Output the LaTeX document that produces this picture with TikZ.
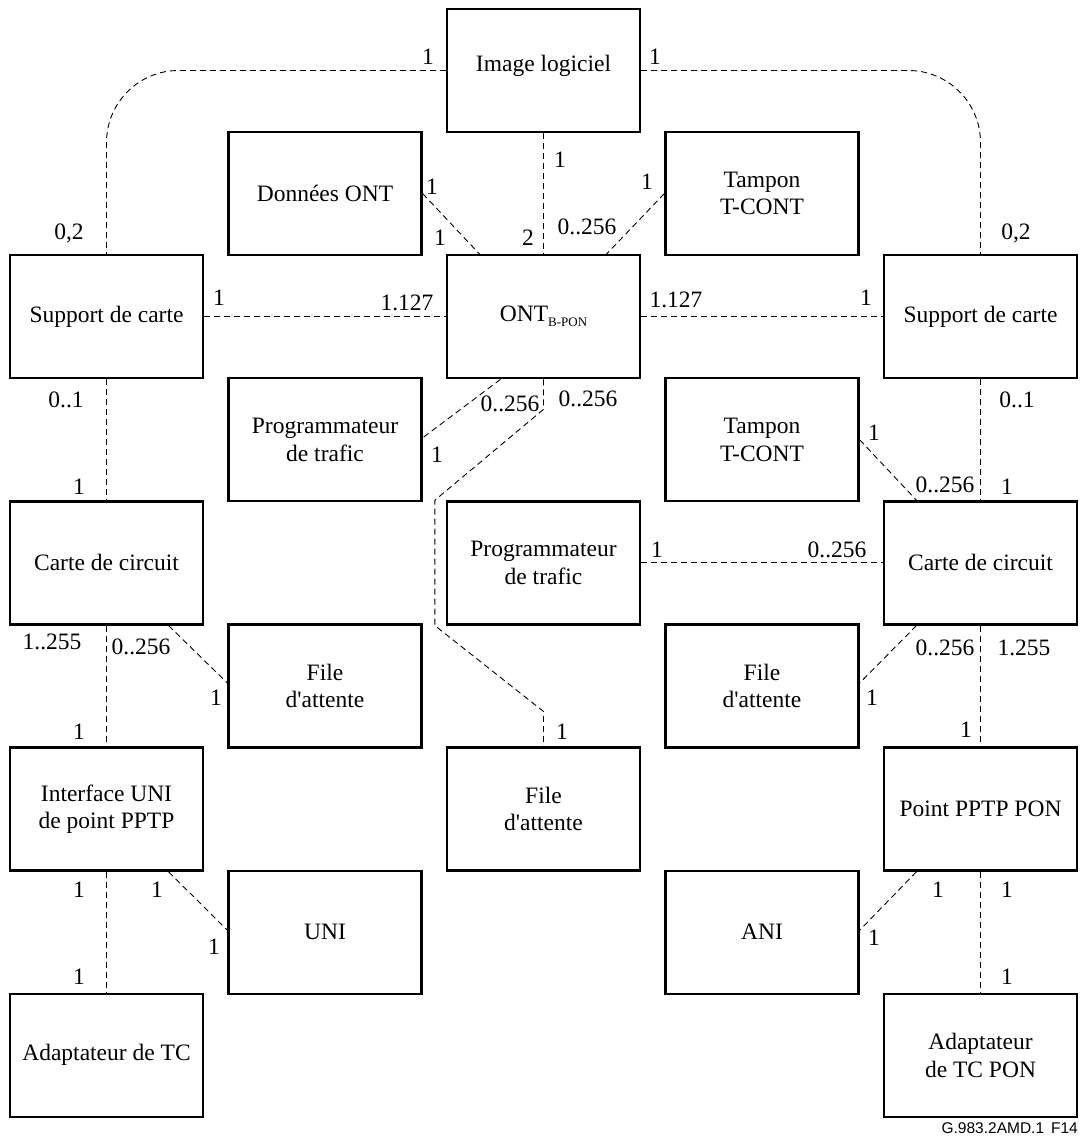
\documentclass[tikz,border=0pt]{standalone}
\usepackage{fontspec}
\setmainfont{Liberation Serif}
\newfontfamily\figsans{Liberation Sans}
\usetikzlibrary{calc}
\begin{document}
\begin{tikzpicture}[x=1pt,y=-1pt,
  box/.style={draw,line width=2.3pt,rectangle,minimum width=193pt,minimum height=123pt,
    inner sep=0pt,align=center,font=\fontsize{23.5}{27.5}\selectfont},
  conn/.style={draw,line width=0.9pt,dash pattern=on 6pt off 4pt},
  lbl/.style={inner sep=0pt,font=\fontsize{23.5}{27.5}\selectfont}]
\useasboundingbox (0,0) rectangle (1082,1137);

% object classes
\node[box] (img)  at (543.5,70.5)  {\raisebox{15pt}{Image logiciel}};
\node[box] (don)  at (325,193.6)   {Donn\'ees ONT};
\node[box] (tpA)  at (762,193.6)   {Tampon\\T-CONT};
\node[box] (supL) at (106.5,316.7) {Support de carte};
\node[box] (ont)  at (543.5,316.7) {ONT\raisebox{-0.45ex}{\fontsize{13}{13}\selectfont B-PON}};
\node[box] (supR) at (980.5,316.7) {Support de carte};
\node[box] (prgL) at (325,439.8)   {Programmateur\\de trafic};
\node[box] (tpB)  at (762,439.8)   {Tampon\\T-CONT};
\node[box] (crtL) at (106.5,562.9) {Carte de circuit};
\node[box] (prgM) at (543.5,562.9) {Programmateur\\de trafic};
\node[box] (crtR) at (980.5,562.9) {Carte de circuit};
\node[box] (filL) at (325,686)     {File\\d\textquotesingle attente};
\node[box] (filR) at (762,686)     {File\\d\textquotesingle attente};
\node[box] (itf)  at (106.5,809.1) {Interface UNI\\de point PPTP};
\node[box] (filM) at (543.5,809.1) {File\\d\textquotesingle attente};
\node[box] (ppt)  at (980.5,809.1) {Point PPTP PON};
\node[box] (uni)  at (325,932.2)   {UNI};
\node[box] (ani)  at (762,932.2)   {ANI};
\node[box] (adL)  at (106.5,1055.3) {Adaptateur de TC};
\node[box] (adR)  at (980.5,1055.3) {Adaptateur\\de TC PON};

% associations
\draw[conn,rounded corners=72pt] (img.west) -| (supL.north);
\draw[conn,rounded corners=72pt] (img.east) -| (supR.north);
\draw[conn] (img.south) -- (ont.north);
\draw[conn] (don.east) -- ($(ont.north)+(-64,0)$);
\draw[conn] (tpA.west) -- ($(ont.north)+(63,0)$);
\draw[conn] (supL.east) -- (ont.west);
\draw[conn] (ont.east) -- (supR.west);
\draw[conn] ($(ont.south)+(-43,0)$) -- ($(prgL.east)+(0,-2)$);
\coordinate (k1) at ($(ont.south)+(0,30)$);
\coordinate (k2) at ($(prgM.north west)+(-11,0)$);
\coordinate (k3) at ($(prgM.south west)+(-11,0)$);
\coordinate (k4) at ($(filM.north)+(0,-35)$);
\draw[conn] (ont.south) -- (k1) -- (k2) -- (k3) -- (k4) -- (filM.north);
\draw[conn] (supL.south) -- (crtL.north);
\draw[conn] (supR.south) -- (crtR.north);
\draw[conn] (tpB.east) -- ($(crtR.north)+(-64,0)$);
\draw[conn] (prgM.east) -- (crtR.west);
\draw[conn] ($(crtL.south)+(62,0)$) -- ($(filL.west)+(0,-3)$);
\draw[conn] (crtL.south) -- (itf.north);
\draw[conn] ($(crtR.south)+(-64,0)$) -- ($(filR.east)+(0,-3)$);
\draw[conn] (crtR.south) -- (ppt.north);
\draw[conn] ($(itf.south)+(62,0)$) -- ($(uni.west)+(0,-2)$);
\draw[conn] (itf.south) -- (adL.north);
\draw[conn] ($(ppt.south)+(-64,0)$) -- ($(ani.east)+(0,-2)$);
\draw[conn] (ppt.south) -- (adR.north);

% multiplicities
\node[lbl] (m1)  at (428,57)  {1};
\node[lbl] (m2)  at (655,57)  {1};
\node[lbl] (m3)  at (69,233)  {0,2};
\node[lbl] (m4)  at (1016,233) {0,2};
\node[lbl] (m5)  at (560,160) {1};
\node[lbl] (m6)  at (528,238) {2};
\node[lbl] (m7)  at (432,187) {1};
\node[lbl] (m8)  at (440,238) {1};
\node[lbl] (m9)  at (647,182) {1};
\node[lbl] (m10) at (587,227) {0..256};
\node[lbl] (m11) at (219,298) {1};
\node[lbl] (m12) at (407,303) {1.127};
\node[lbl] (m13) at (676,300) {1.127};
\node[lbl] (m14) at (866,298) {1};
\node[lbl] (m15) at (66,400)  {0..1};
\node[lbl] (m16) at (79,487)  {1};
\node[lbl] (m17) at (1017,400) {0..1};
\node[lbl] (m18) at (1007,487) {1};
\node[lbl] (m19) at (945,485) {0..256};
\node[lbl] (m20) at (510,404) {0..256};
\node[lbl] (m21) at (437,455) {1};
\node[lbl] (m22) at (588,399) {0..256};
\node[lbl] (m23) at (562,732) {1};
\node[lbl] (m24) at (874,433) {1};
\node[lbl] (m25) at (657,550) {1};
\node[lbl] (m26) at (837,550) {0..256};
\node[lbl] (m27) at (141,647) {0..256};
\node[lbl] (m28) at (216,698) {1};
\node[lbl] (m29) at (52,642)  {1..255};
\node[lbl] (m30) at (79,732)  {1};
\node[lbl] (m31) at (945,648) {0..256};
\node[lbl] (m32) at (872,698) {1};
\node[lbl] (m33) at (1024,648) {1.255};
\node[lbl] (m34) at (966,730) {1};
\node[lbl] (m35) at (157,890) {1};
\node[lbl] (m36) at (214,947) {1};
\node[lbl] (m37) at (79,890)  {1};
\node[lbl] (m38) at (79,977)  {1};
\node[lbl] (m39) at (938,890) {1};
\node[lbl] (m40) at (874,938) {1};
\node[lbl] (m41) at (1007,890) {1};
\node[lbl] (m42) at (1007,977) {1};

% figure reference
\node[inner sep=0pt,anchor=east,font=\figsans\fontsize{15.5}{15.5}\selectfont] (ref) at (1078,1128) {G.983.2AMD.1\hspace{0.45em}F14};
\end{tikzpicture}
\end{document}
